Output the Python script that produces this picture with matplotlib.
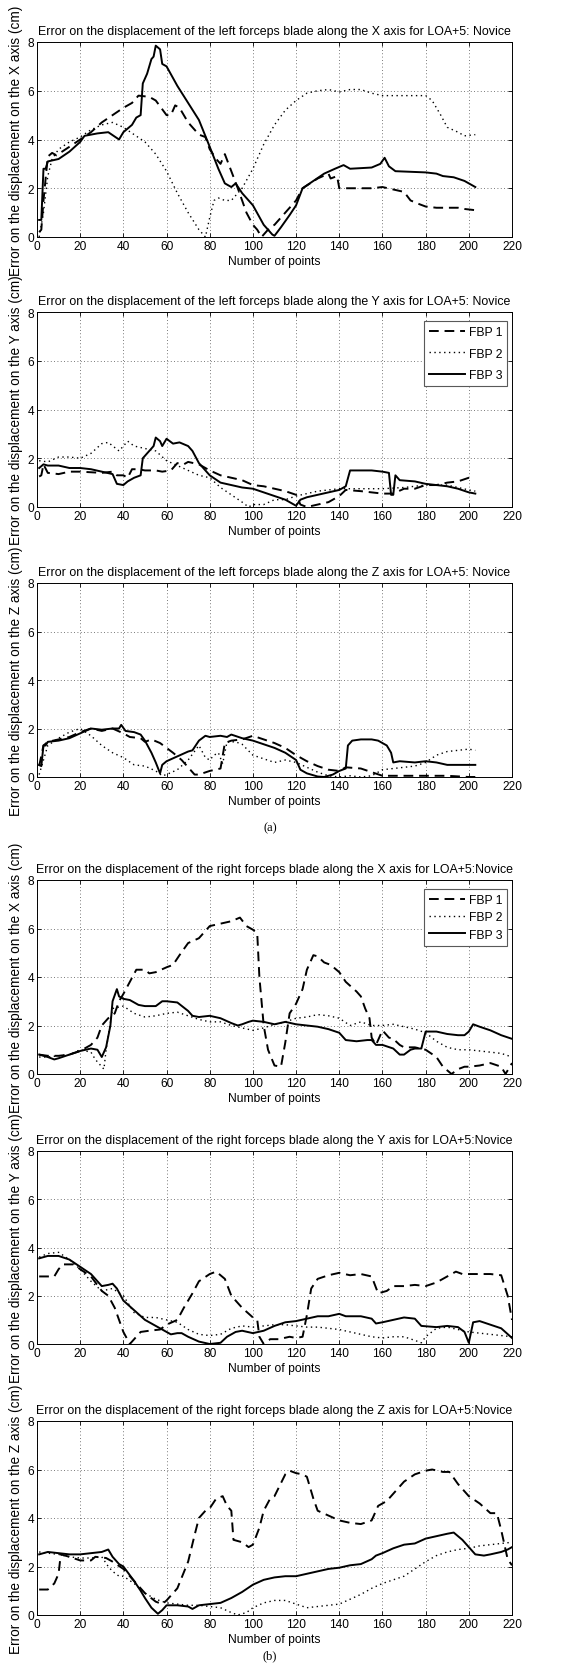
import matplotlib
matplotlib.use('Agg')
from matplotlib import pyplot as plt
from matplotlib import font_manager as fm

plt.rcParams['font.family'] = ['Liberation Sans', 'DejaVu Sans']

# ---- left blade, X axis ----
lx1_x = [1, 2, 3, 5, 7, 9, 15, 20, 25, 30, 35, 40, 44, 47, 52, 55, 60, 62, 64, 66, 70, 75, 78, 80, 83, 85, 87, 90, 93, 97,
         100, 102, 104, 106, 108, 110, 115, 120, 123, 130, 135, 136, 139, 140, 145, 155, 160, 165, 170, 173, 177, 180, 185,
         195, 198, 203]
lx1_y = [0.2, 0.3, 1.5, 3.3, 3.45, 3.35, 3.7, 4.0, 4.3, 4.7, 5.0, 5.3, 5.5, 5.8, 5.75, 5.6, 5.0, 5.0, 5.4, 5.3, 4.7, 4.2,
         4.1, 3.6, 3.2, 3.0, 3.4, 2.7, 2.0, 1.0, 0.5, 0.3, 0.0, 0.2, 0.4, 0.5, 1.0, 1.5, 2.0, 2.4, 2.6, 2.4, 2.5, 2.0, 2.0,
         2.0, 2.05, 1.95, 1.85, 1.5, 1.35, 1.25, 1.2, 1.2, 1.15, 1.1]
lx2_x = [1, 3, 5, 7, 10, 15, 20, 25, 30, 35, 40, 45, 50, 55, 60, 65, 70, 75, 78, 80, 82, 84, 87, 90, 95, 100, 105, 110, 115,
         120, 125, 130, 135, 140, 145, 150, 155, 160, 170, 180, 183, 187, 190, 195, 198, 203]
lx2_y = [0.0, 1.0, 2.5, 3.2, 3.6, 3.9, 4.1, 4.4, 4.6, 4.7, 4.5, 4.2, 3.9, 3.4, 2.7, 1.8, 1.0, 0.3, 0.0, 0.8, 1.5, 1.6, 1.5,
         1.5, 2.0, 2.8, 3.8, 4.6, 5.2, 5.6, 5.9, 6.0, 6.05, 5.95, 6.05, 6.05, 5.9, 5.8, 5.8, 5.8, 5.6, 5.0, 4.5, 4.3, 4.15,
         4.2]
lx3_x = [1, 2, 3, 4, 5, 10, 15, 20, 22, 28, 33, 38, 40, 44, 46, 48, 49, 51, 53, 54, 55, 57, 58, 60, 65, 70, 75, 80, 84, 87,
         90, 92, 95, 100, 105, 107, 109, 110, 113, 117, 120, 123, 128, 133, 138, 142, 145, 155, 159, 161, 163, 166, 180, 185,
         188, 193, 198, 203]
lx3_y = [0.7, 0.7, 2.8, 2.8, 3.1, 3.2, 3.5, 3.9, 4.15, 4.25, 4.3, 4.0, 4.3, 4.6, 4.9, 5.0, 6.3, 6.7, 7.3, 7.4, 7.85, 7.7,
         7.1, 7.0, 6.2, 5.5, 4.8, 3.7, 2.8, 2.2, 2.05, 2.2, 1.8, 1.3, 0.5, 0.3, 0.1, 0.05, 0.4, 0.9, 1.3, 2.0, 2.3, 2.6,
         2.8, 2.95, 2.8, 2.85, 3.0, 3.25, 2.9, 2.7, 2.65, 2.6, 2.5, 2.45, 2.3, 2.05]

# ---- left blade, Y axis ----
ly1_x = [1, 2, 3, 5, 10, 15, 20, 30, 35, 37, 40, 42, 44, 47, 50, 55, 58, 62, 65, 68, 70, 75, 80, 85, 90, 95, 100, 105, 110,
         115, 120, 122, 125, 130, 135, 140, 143, 150, 155, 160, 165, 170, 175, 180, 185, 190, 195, 200, 202]
ly1_y = [1.25, 1.3, 1.75, 1.4, 1.35, 1.45, 1.45, 1.4, 1.45, 1.3, 1.3, 1.2, 1.55, 1.55, 1.5, 1.5, 1.45, 1.5, 1.8, 1.75, 1.85,
         1.75, 1.5, 1.3, 1.2, 1.1, 0.9, 0.85, 0.75, 0.65, 0.5, 0.1, 0.0, 0.1, 0.2, 0.45, 0.7, 0.65, 0.6, 0.55, 0.55, 0.75,
         0.75, 0.9, 0.9, 1.0, 1.05, 1.2, 1.25]
ly2_x = [1, 5, 10, 15, 20, 25, 30, 33, 38, 42, 45, 50, 55, 60, 65, 70, 75, 80, 85, 90, 95, 98, 100, 105, 110, 115, 120, 125,
         130, 140, 150, 160, 170, 180, 190, 200, 203]
ly2_y = [1.9, 1.85, 2.05, 2.05, 2.0, 2.2, 2.6, 2.65, 2.3, 2.7, 2.5, 2.4, 2.3, 1.9, 1.7, 1.5, 1.3, 1.2, 0.8, 0.5, 0.2, 0.0,
         0.1, 0.1, 0.3, 0.3, 0.45, 0.55, 0.65, 0.75, 0.75, 0.75, 0.8, 0.9, 0.9, 0.7, 0.65]
ly3_x = [1, 3, 5, 10, 15, 20, 25, 30, 35, 37, 40, 42, 45, 48, 49, 52, 54, 55, 57, 58, 60, 63, 66, 70, 72, 75, 80, 85, 90,
         95, 100, 105, 110, 115, 118, 120, 122, 125, 130, 135, 140, 143, 145, 150, 155, 160, 163, 164, 165, 166, 168, 175,
         180, 185, 190, 195, 200, 203]
ly3_y = [1.6, 1.75, 1.7, 1.7, 1.6, 1.6, 1.55, 1.45, 1.35, 0.95, 0.9, 1.05, 1.2, 1.3, 2.0, 2.3, 2.5, 2.85, 2.7, 2.5, 2.8,
         2.6, 2.65, 2.5, 2.3, 1.8, 1.3, 1.0, 0.9, 0.8, 0.75, 0.6, 0.45, 0.3, 0.15, 0.05, 0.3, 0.4, 0.5, 0.6, 0.7, 0.85, 1.5,
         1.5, 1.5, 1.45, 1.4, 0.5, 0.5, 1.3, 1.1, 1.05, 0.95, 0.9, 0.85, 0.75, 0.6, 0.55]

# ---- left blade, Z axis ----
lz1_x = [1, 3, 5, 10, 15, 20, 25, 30, 35, 40, 43, 48, 50, 53, 57, 60, 63, 67, 70, 73, 75, 80, 85, 87, 90, 95, 100, 105, 110,
         115, 120, 125, 130, 135, 140, 143, 150, 155, 160, 170, 180, 190, 200, 203]
lz1_y = [0.45, 1.3, 1.45, 1.55, 1.65, 1.85, 2.0, 1.9, 2.0, 1.8, 1.65, 1.6, 1.45, 1.55, 1.4, 1.2, 1.0, 0.7, 0.4, 0.1, 0.1,
         0.25, 0.35, 1.4, 1.5, 1.55, 1.7, 1.55, 1.4, 1.2, 0.9, 0.65, 0.45, 0.3, 0.25, 0.4, 0.35, 0.2, 0.05, 0.05, 0.05,
         0.05, 0.0, 0.0]
lz2_x = [1, 5, 10, 15, 20, 25, 30, 35, 40, 45, 50, 55, 58, 60, 65, 70, 75, 78, 80, 82, 84, 86, 88, 92, 95, 100, 105, 110,
         115, 120, 125, 130, 135, 140, 145, 150, 155, 160, 170, 175, 180, 185, 190, 195, 200, 203]
lz2_y = [0.1, 1.3, 1.6, 1.85, 2.0, 1.7, 1.3, 1.0, 0.8, 0.5, 0.45, 0.25, 0.05, 0.1, 0.3, 0.7, 1.3, 0.8, 0.7, 0.9, 1.0, 0.55,
         1.45, 1.45, 1.35, 0.9, 0.75, 0.6, 0.7, 0.6, 0.4, 0.2, 0.05, 0.0, 0.05, 0.0, 0.05, 0.3, 0.4, 0.45, 0.6, 0.9, 1.05,
         1.1, 1.15, 1.1]
lz3_x = [1, 2, 3, 4, 5, 10, 15, 20, 25, 30, 35, 38, 39, 41, 45, 48, 50, 53, 55, 57, 58, 60, 65, 70, 72, 75, 78, 80, 85, 88,
         90, 95, 100, 105, 110, 115, 120, 122, 125, 130, 133, 137, 140, 143, 144, 146, 150, 155, 158, 162, 164, 165, 168,
         175, 180, 185, 190, 195, 200, 203]
lz3_y = [0.5, 0.45, 1.3, 1.3, 1.45, 1.5, 1.6, 1.8, 2.0, 1.95, 2.0, 2.0, 2.15, 1.9, 1.85, 1.75, 1.5, 1.0, 0.6, 0.15, 0.5,
         0.65, 0.85, 1.05, 1.1, 1.5, 1.7, 1.65, 1.7, 1.65, 1.75, 1.6, 1.5, 1.35, 1.2, 1.0, 0.7, 0.3, 0.15, 0.02, 0.0, 0.1,
         0.25, 0.35, 1.3, 1.5, 1.55, 1.55, 1.5, 1.3, 1.0, 0.6, 0.65, 0.6, 0.65, 0.6, 0.5, 0.5, 0.5, 0.5]

# ---- right blade, X axis ----
rx1_x = [1, 5, 10, 15, 20, 25, 28, 30, 33, 36, 38, 40, 43, 46, 50, 52, 55, 60, 63, 66, 70, 75, 80, 85, 90, 94, 97, 100, 102,
         103, 105, 107, 110, 113, 115, 117, 120, 123, 125, 128, 130, 133, 136, 140, 143, 148, 150, 152, 154, 155, 157, 160,
         163, 165, 168, 170, 175, 180, 185, 188, 192, 195, 198, 200, 205, 210, 215, 217, 220]
rx1_y = [0.8, 0.75, 0.75, 0.8, 0.95, 1.2, 1.5, 2.0, 2.3, 2.5, 3.0, 3.3, 3.8, 4.3, 4.3, 4.15, 4.2, 4.4, 4.5, 4.9, 5.4, 5.6,
         6.1, 6.2, 6.3, 6.45, 6.1, 5.95, 5.8, 4.0, 2.0, 1.0, 0.35, 0.3, 1.3, 2.5, 2.9, 3.5, 4.3, 4.9, 4.85, 4.6, 4.5, 4.2,
         3.8, 3.4, 3.2, 2.7, 2.3, 1.5, 1.2, 1.8, 1.5, 1.45, 1.2, 1.1, 1.1, 1.0, 0.7, 0.3, 0.0, 0.2, 0.3, 0.3, 0.35, 0.45,
         0.3, 0.0, 0.45]
rx2_x = [1, 5, 10, 15, 20, 25, 27, 30, 31, 32, 35, 40, 45, 50, 55, 60, 65, 70, 75, 80, 85, 90, 95, 100, 105, 110, 115, 120,
         125, 130, 135, 140, 145, 150, 155, 160, 165, 170, 175, 180, 185, 190, 195, 200, 205, 210, 215, 220]
rx2_y = [0.7, 0.7, 0.75, 0.8, 1.0, 0.9, 0.6, 0.3, 0.2, 1.0, 2.7, 2.8, 2.5, 2.35, 2.4, 2.5, 2.55, 2.4, 2.25, 2.15, 2.15, 2.0,
         1.9, 1.8, 1.9, 2.05, 2.15, 2.3, 2.35, 2.45, 2.4, 2.3, 2.0, 2.15, 2.0, 2.0, 2.05, 1.95, 1.85, 1.7, 1.35, 1.1, 1.0,
         1.0, 0.95, 0.9, 0.85, 0.7]
rx3_x = [1, 5, 8, 10, 15, 20, 25, 28, 30, 32, 34, 35, 37, 38, 40, 43, 45, 47, 50, 55, 58, 60, 65, 70, 72, 75, 80, 85, 90,
         93, 95, 98, 100, 105, 110, 115, 120, 125, 130, 135, 140, 143, 148, 153, 155, 157, 160, 165, 168, 170, 173, 175,
         178, 180, 185, 190, 195, 198, 200, 202, 205, 210, 215, 220]
rx3_y = [0.8, 0.7, 0.6, 0.65, 0.8, 0.95, 1.05, 1.0, 0.7, 1.1, 2.0, 3.0, 3.5, 3.2, 3.1, 3.05, 2.95, 2.85, 2.8, 2.8, 3.0,
         3.0, 2.95, 2.6, 2.4, 2.35, 2.4, 2.3, 2.1, 2.0, 2.05, 2.15, 2.2, 2.15, 2.05, 2.15, 2.05, 2.0, 1.95, 1.85, 1.7, 1.4,
         1.35, 1.4, 1.4, 1.2, 1.2, 1.05, 0.8, 0.8, 1.0, 1.05, 1.05, 1.75, 1.75, 1.65, 1.6, 1.6, 1.75, 2.05, 1.95, 1.8,
         1.6, 1.45]

# ---- right blade, Y axis ----
ry1_x = [1, 5, 8, 10, 12, 17, 20, 25, 30, 33, 36, 40, 43, 45, 48, 52, 57, 60, 65, 68, 72, 75, 80, 83, 87, 90, 95, 100,
         102, 103, 105, 108, 112, 117, 120, 123, 125, 127, 130, 135, 140, 145, 150, 155, 158, 162, 165, 170, 175, 180,
         185, 190, 194, 197, 200, 210, 215, 218, 220]
ry1_y = [2.8, 2.8, 2.8, 3.1, 3.3, 3.3, 3.1, 2.8, 2.2, 2.0, 1.5, 0.5, 0.0, 0.2, 0.5, 0.55, 0.6, 0.8, 1.0, 1.5, 2.1, 2.6,
         2.9, 3.0, 2.7, 2.0, 1.5, 1.1, 1.0, 0.3, 0.0, 0.2, 0.2, 0.3, 0.25, 0.3, 1.2, 2.3, 2.7, 2.85, 2.95, 2.85, 2.9, 2.8,
         2.1, 2.2, 2.4, 2.4, 2.45, 2.4, 2.55, 2.8, 3.0, 2.9, 2.9, 2.9, 2.85, 2.0, 1.0]
ry2_x = [1, 5, 10, 15, 20, 25, 30, 35, 40, 45, 50, 55, 60, 65, 70, 75, 80, 85, 90, 95, 100, 105, 110, 115, 120, 125, 130,
         135, 140, 145, 150, 155, 160, 165, 170, 175, 178, 180, 185, 190, 195, 200, 205, 210, 215, 220]
ry2_y = [3.6, 3.75, 3.8, 3.5, 3.1, 2.6, 2.2, 2.3, 2.0, 1.3, 1.1, 1.1, 1.0, 0.9, 0.6, 0.4, 0.35, 0.4, 0.65, 0.75, 0.7, 0.75,
         0.8, 0.8, 0.75, 0.7, 0.7, 0.65, 0.6, 0.5, 0.4, 0.3, 0.25, 0.3, 0.3, 0.15, 0.05, 0.3, 0.65, 0.7, 0.6, 0.5, 0.45,
         0.4, 0.35, 0.3]
ry3_x = [1, 5, 10, 15, 20, 25, 30, 33, 35, 37, 40, 45, 50, 55, 60, 62, 65, 67, 70, 75, 80, 85, 88, 92, 95, 100, 105, 110,
         115, 120, 125, 130, 135, 140, 143, 150, 155, 157, 160, 165, 170, 175, 178, 185, 190, 195, 198, 200, 202, 205, 210,
         215, 220]
ry3_y = [3.55, 3.65, 3.65, 3.5, 3.2, 2.9, 2.4, 2.45, 2.5, 2.3, 1.8, 1.4, 1.0, 0.75, 0.5, 0.4, 0.45, 0.45, 0.3, 0.1, 0.0,
         0.05, 0.3, 0.5, 0.55, 0.45, 0.55, 0.75, 0.9, 0.95, 1.05, 1.15, 1.15, 1.25, 1.15, 1.15, 1.05, 0.85, 0.9, 1.0, 1.1,
         1.05, 0.75, 0.7, 0.75, 0.7, 0.5, 0.05, 0.9, 0.95, 0.8, 0.65, 0.25]

# ---- right blade, Z axis ----
rz1_x = [1, 5, 8, 10, 11, 15, 20, 25, 27, 32, 35, 40, 45, 50, 55, 58, 60, 63, 65, 70, 73, 75, 78, 80, 83, 86, 88, 90, 91,
         95, 98, 100, 103, 105, 108, 110, 115, 117, 120, 123, 125, 128, 130, 135, 140, 145, 150, 155, 158, 162, 165, 170,
         175, 180, 183, 188, 191, 195, 200, 205, 210, 213, 215, 218, 220]
rz1_y = [1.05, 1.05, 1.3, 1.7, 2.5, 2.4, 2.25, 2.25, 2.4, 2.35, 2.2, 1.9, 1.4, 0.9, 0.55, 0.45, 0.6, 0.9, 1.1, 2.2, 3.3,
         4.0, 4.3, 4.4, 4.8, 4.9, 4.5, 4.3, 3.1, 3.0, 2.8, 2.9, 3.6, 4.3, 4.8, 4.9, 5.8, 5.95, 5.85, 5.8, 5.7, 4.8, 4.3,
         4.1, 3.9, 3.8, 3.75, 3.9, 4.5, 4.7, 5.0, 5.5, 5.8, 5.95, 6.0, 5.9, 5.9, 5.4, 4.9, 4.6, 4.2, 4.2, 3.5, 2.3, 2.05]
rz2_x = [1, 5, 10, 15, 20, 25, 30, 33, 35, 38, 40, 45, 50, 55, 60, 65, 70, 75, 80, 85, 90, 93, 97, 100, 105, 110, 115, 120,
         125, 130, 135, 140, 145, 150, 155, 160, 165, 170, 175, 180, 185, 190, 195, 200, 205, 210, 215, 220]
rz2_y = [2.6, 2.55, 2.5, 2.4, 2.35, 2.35, 2.4, 2.0, 1.8, 1.6, 1.6, 1.3, 0.9, 0.65, 0.5, 0.45, 0.4, 0.4, 0.35, 0.3, 0.1,
         0.0, 0.1, 0.3, 0.5, 0.6, 0.6, 0.45, 0.3, 0.35, 0.4, 0.45, 0.65, 0.85, 1.1, 1.3, 1.45, 1.6, 1.9, 2.2, 2.45, 2.6,
         2.7, 2.75, 2.85, 2.9, 2.95, 3.0]
rz3_x = [1, 5, 10, 15, 20, 25, 30, 33, 35, 38, 40, 45, 48, 50, 53, 56, 58, 60, 65, 70, 72, 75, 80, 85, 90, 95, 100, 105,
         110, 115, 120, 125, 130, 135, 140, 145, 150, 155, 157, 160, 165, 170, 175, 180, 185, 190, 193, 197, 200, 203, 207,
         210, 215, 218, 220]
rz3_y = [2.5, 2.6, 2.55, 2.5, 2.5, 2.55, 2.6, 2.7, 2.4, 2.1, 2.0, 1.4, 1.0, 0.7, 0.3, 0.05, 0.2, 0.4, 0.4, 0.35, 0.25,
         0.4, 0.45, 0.5, 0.7, 0.95, 1.25, 1.45, 1.55, 1.6, 1.6, 1.7, 1.8, 1.9, 1.95, 2.05, 2.1, 2.3, 2.45, 2.55, 2.75, 2.9,
         2.95, 3.15, 3.25, 3.35, 3.4, 3.1, 2.8, 2.5, 2.45, 2.5, 2.6, 2.7, 2.8]

titles = [
    'Error on the displacement of the left forceps blade along the X axis for LOA+5: Novice',
    'Error on the displacement of the left forceps blade along the Y axis for LOA+5: Novice',
    'Error on the displacement of the left forceps blade along the Z axis for LOA+5: Novice',
    'Error on the displacement of the right forceps blade along the X axis for LOA+5:Novice',
    'Error on the displacement of the right forceps blade along the Y axis for LOA+5:Novice',
    'Error on the displacement of the right forceps blade along the Z axis for LOA+5:Novice',
]
ylabels = ['Error on the displacement on the X axis (cm)',
           'Error on the displacement on the Y axis (cm)',
           'Error on the displacement on the Z axis (cm)'] * 2
legend_labels = ['FBP 1', 'FBP 2', 'FBP 3']

panels = [
    (lx1_x, lx1_y, lx2_x, lx2_y, lx3_x, lx3_y),
    (ly1_x, ly1_y, ly2_x, ly2_y, ly3_x, ly3_y),
    (lz1_x, lz1_y, lz2_x, lz2_y, lz3_x, lz3_y),
    (rx1_x, rx1_y, rx2_x, rx2_y, rx3_x, rx3_y),
    (ry1_x, ry1_y, ry2_x, ry2_y, ry3_x, ry3_y),
    (rz1_x, rz1_y, rz2_x, rz2_y, rz3_x, rz3_y),
]
# axes top/bottom in pixels of the 578x1674 figure
rows = [(43, 238), (313, 508), (584, 778), (881, 1075), (1152, 1345), (1422, 1616)]
# legend: (labelspacing) or None
legends = [None, 0.8, None, 0.45, None, None]

# the scanned figure is stretched vertically, a narrow face imitates it
installed = {f.name for f in fm.fontManager.ttflist}
if 'Liberation Sans Narrow' in installed:
    hfam = ['Liberation Sans Narrow', 'DejaVu Sans']
    fs_title, fs_tick, fs_lab = 10.4, 10.4, 10.6
else:
    hfam = ['Liberation Sans', 'DejaVu Sans']
    fs_title, fs_tick, fs_lab = 8.9, 8.6, 8.7
fs_ylab = 9.8

W, H = 578, 1674
fig = plt.figure(figsize=(W / 100, H / 100), dpi=100)

for i, (p, (top, bot)) in enumerate(zip(panels, rows)):
    ax = fig.add_axes([37 / W, 1 - bot / H, (512 - 37) / W, (bot - top) / H])
    ax.plot(p[0], p[1], color='k', lw=1.4, linestyle=(0, (5, 3)), label=legend_labels[0])
    ax.plot(p[2], p[3], color='k', lw=1.0, linestyle=(0, (1, 2.5)), label=legend_labels[1])
    ax.plot(p[4], p[5], color='k', lw=1.4, linestyle='-', label=legend_labels[2])
    ax.set_xlim(0, 220)
    ax.set_ylim(0, 8)
    ax.set_xticks(range(0, 221, 20))
    ax.set_yticks(range(0, 9, 2))
    ax.grid(True, linestyle=(0, (1, 3)), color='0.3', lw=0.6)
    ax.tick_params(direction='in', top=True, right=True, labelsize=fs_tick, length=3, width=0.6, pad=2)
    for lbl in ax.get_xticklabels() + ax.get_yticklabels():
        lbl.set_family(hfam)
    for s in ax.spines.values():
        s.set_linewidth(0.7)
    ax.set_title(titles[i], fontsize=fs_title, family=hfam, pad=6)
    ax.set_xlabel('Number of points', fontsize=fs_lab, family=hfam, labelpad=2)
    ax.set_ylabel(ylabels[i], fontsize=fs_ylab, labelpad=3)
    if legends[i] is not None:
        pw, ph = (512 - 37), (bot - top)
        leg = ax.legend(loc='upper right', bbox_to_anchor=(1 - 5 / pw, 1 - 9 / ph), borderaxespad=0,
                        prop={'family': hfam, 'size': fs_lab}, handlelength=3.0, handletextpad=0.3,
                        fancybox=False, edgecolor='0.35', framealpha=1, labelspacing=legends[i],
                        borderpad=0.4)
        leg.get_frame().set_linewidth(0.8)

fig.text(270 / W, 1 - 828 / H, '(a)', ha='center', va='center', fontsize=9, family='Liberation Serif')
fig.text(270 / W, 1 - 1656 / H, '(b)', ha='center', va='center', fontsize=9, family='Liberation Serif')

fig.savefig('out.png', dpi=100)
